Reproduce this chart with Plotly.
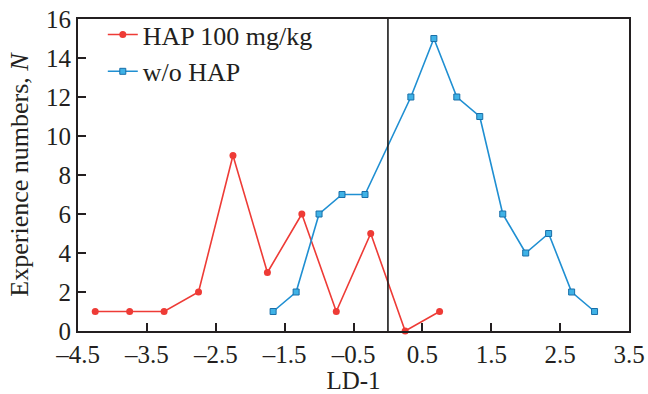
import plotly.graph_objects as go

# Data
hap_x = [-4.25, -3.75, -3.25, -2.75, -2.25, -1.75, -1.25, -0.75, -0.25, 0.25, 0.75]
hap_y = [1, 1, 1, 2, 9, 3, 6, 1, 5, 0, 1]
wo_x = [-1.667, -1.333, -1.0, -0.667, -0.333, 0.333, 0.667, 1.0, 1.333, 1.667, 2.0, 2.333, 2.667, 3.0]
wo_y = [1, 2, 6, 7, 7, 12, 15, 12, 11, 6, 4, 5, 2, 1]
x_tickvals = [-4.5, -3.5, -2.5, -1.5, -0.5, 0.5, 1.5, 2.5, 3.5]
x_ticktext = ["\u20134.5", "\u20133.5", "\u20132.5", "\u20131.5", "\u20130.5", "0.5", "1.5", "2.5", "3.5"]
y_tickvals = [0, 2, 4, 6, 8, 10, 12, 14, 16]
vline_x = 0

FONT = "Liberation Serif"
INK = "#231f20"
fig = go.Figure()
fig.add_trace(go.Scatter(
    x=hap_x, y=hap_y, mode="lines+markers", name="HAP 100 mg/kg",
    line=dict(color="#ee3b36", width=1.6),
    marker=dict(symbol="circle", size=7, color="#ee3b36"),
    cliponaxis=False,
))
fig.add_trace(go.Scatter(
    x=wo_x, y=wo_y, mode="lines+markers", name="w/o HAP",
    line=dict(color="#1f8fd2", width=1.6),
    marker=dict(symbol="square", size=6, color="#3fb2e6", line=dict(color="#1a6fa8", width=1)),
    cliponaxis=False,
))
fig.add_shape(type="line", xref="x", yref="paper", x0=vline_x, x1=vline_x, y0=0, y1=1,
              line=dict(color="#1a1a1a", width=1.6))

fig.update_layout(
    width=648, height=394,
    margin=dict(l=78, r=19, t=18, b=63),
    paper_bgcolor="white", plot_bgcolor="white",
    font=dict(family=FONT, size=25, color=INK),
    showlegend=True,
    legend=dict(x=0.045, y=1.022, xanchor="left", yanchor="top", bgcolor="rgba(0,0,0,0)",
                font=dict(size=26), itemwidth=30, tracegroupgap=0),
)
fig.update_xaxes(
    range=[-4.5, 3.5], tickvals=x_tickvals, ticktext=x_ticktext,
    ticks="inside", ticklen=8, tickwidth=1.5, tickcolor=INK,
    showline=True, linecolor=INK, linewidth=2, mirror=True,
    showgrid=False, zeroline=False, automargin=False,
    tickfont=dict(size=25),
    title=dict(text="LD-1", font=dict(size=25)),
)
fig.update_yaxes(
    range=[0, 16], tickvals=y_tickvals,
    ticks="inside", ticklen=8, tickwidth=1.5, tickcolor=INK,
    showline=True, linecolor=INK, linewidth=2, mirror=True,
    showgrid=False, zeroline=False, automargin=False,
    tickfont=dict(size=25),
    title=dict(text="Experience numbers, <i>N</i>", font=dict(size=26), standoff=10),
)
fig.write_html("out.html")
